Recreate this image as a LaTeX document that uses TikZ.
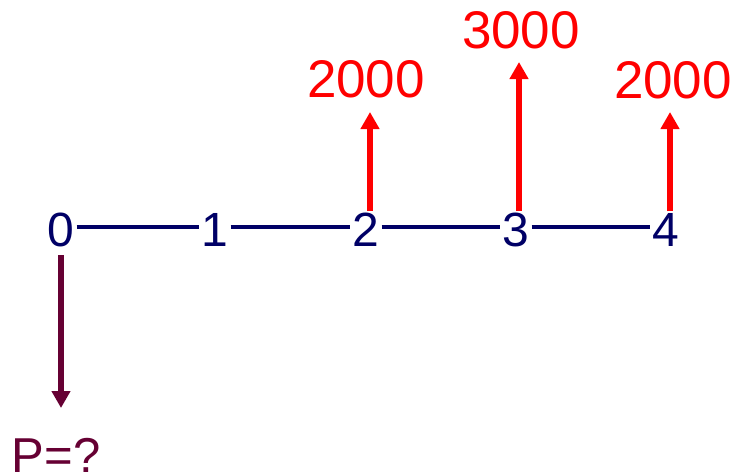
\documentclass[tikz,border=0pt]{standalone}
\usepackage{fontspec}
\setmainfont{Liberation Sans}
\usetikzlibrary{arrows.meta}
\definecolor{navy}{RGB}{0,0,102}
\definecolor{flowred}{RGB}{255,0,0}
\definecolor{maroon}{RGB}{102,0,51}
\begin{document}
\begin{tikzpicture}[x=1pt,y=-1pt,
  period/.style={text=navy,font=\fontsize{48}{48}\selectfont,inner sep=2pt},
  amount/.style={text=flowred,font=\fontsize{53}{53}\selectfont,inner sep=0pt},
  axis/.style={navy,line width=3.5pt},
  inflow/.style={flowred,line width=5.5pt,-{Triangle[width=18pt,length=17pt]}},
  outflow/.style={maroon,line width=5.5pt,-{Triangle[width=18pt,length=17pt]}}]
\useasboundingbox (0,0) rectangle (735,475);
% period markers on the time line
\node[period] (t0) at (61,230) {0};
\node[period] (t1) at (215,230) {1};
\node[period] (t2) at (366,230) {2};
\node[period] (t3) at (516,230) {3};
\node[period] (t4) at (666,230) {4};
\draw[axis] ([yshift=3pt]t0.east) -- ([yshift=3pt]t1.west);
\draw[axis] ([yshift=3pt]t1.east) -- ([yshift=3pt]t2.west);
\draw[axis] ([yshift=3pt]t2.east) -- ([yshift=3pt]t3.west);
\draw[axis] ([yshift=3pt]t3.east) -- ([yshift=3pt]t4.west);
% cash inflows
\coordinate (a2) at (370,112);
\coordinate (a3) at (519,62);
\coordinate (a4) at (670,112);
\draw[inflow] (t2.north -| a2) -- (a2);
\draw[inflow] (t3.north -| a3) -- (a3);
\draw[inflow] (t4.north -| a4) -- (a4);
\node[amount] (l2) at (366,79) {2000};
\node[amount] (l3) at (521,30) {3000};
\node[amount] (l4) at (673,80) {2000};
% unknown present value
\coordinate (p) at (61,408);
\draw[outflow] ([yshift=-6pt]t0.south) -- (p);
\node[text=maroon,font=\fontsize{49}{49}\selectfont,inner sep=0pt,anchor=base] (pv) at (56,472) {P=?};
\end{tikzpicture}
\end{document}
